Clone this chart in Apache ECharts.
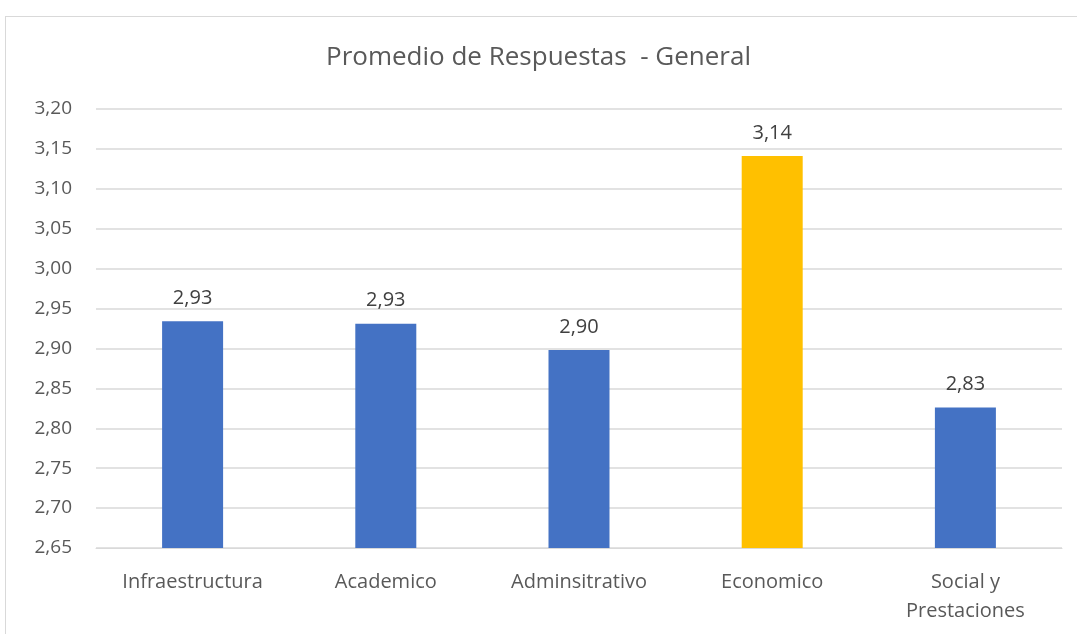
<!DOCTYPE html>
<html><head><meta charset="utf-8">
<script src="https://cdn.jsdelivr.net/npm/echarts@6/dist/echarts.min.js"></script>
<style>
html,body{margin:0;padding:0;background:#fff;}
#frame{position:absolute;left:5px;top:16px;width:1090px;height:640px;border:1px solid #d9d9d9;box-sizing:border-box;}
#chart{position:absolute;left:0;top:0;width:1077px;height:634px;}
</style></head>
<body>
<div id="frame"></div>
<div id="chart"></div>
<script>
const categories = ["Infraestructura", "Academico", "Adminsitrativo", "Economico", "Social y\nPrestaciones"];
const values = [2.934, 2.931, 2.898, 3.141, 2.826];
const barColors = ["#4472C4", "#4472C4", "#4472C4", "#FFC000", "#4472C4"];
const titleText = "Promedio de Respuestas  - General";

const chart = echarts.init(document.getElementById('chart'));
const fontFam = "'Open Sans',sans-serif";
chart.setOption({
  animation: false,
  title: {
    text: titleText, left: 'center', top: 40,
    textStyle: { fontFamily: fontFam, fontSize: 26, fontWeight: 'normal', color: '#595959' }
  },
  grid: { left: 96, right: 15, top: 109, bottom: 86 },
  xAxis: {
    type: 'category', data: categories,
    axisLine: { show: true, lineStyle: { color: '#d9d9d9' } },
    axisTick: { show: false },
    axisLabel: { fontFamily: fontFam, fontSize: 20, color: '#595959', margin: 20, lineHeight: 29, interval: 0 }
  },
  yAxis: {
    type: 'value', min: 2.65, max: 3.20, interval: 0.05,
    axisLine: { show: false }, axisTick: { show: false },
    splitLine: { lineStyle: { color: '#d9d9d9', width: 1.5 } },
    axisLabel: {
      fontFamily: fontFam, fontSize: 19, color: '#595959', margin: 24,
      formatter: v => v.toFixed(2).replace('.', ',')
    }
  },
  series: [{
    type: 'bar', barWidth: 61,
    data: values.map((v, i) => ({ value: v, itemStyle: { color: barColors[i] } })),
    label: {
      show: true, position: 'top', distance: 13,
      fontFamily: fontFam, fontSize: 20, color: '#404040',
      formatter: p => p.value.toFixed(2).replace('.', ',')
    }
  }]
});
</script>
</body></html>
